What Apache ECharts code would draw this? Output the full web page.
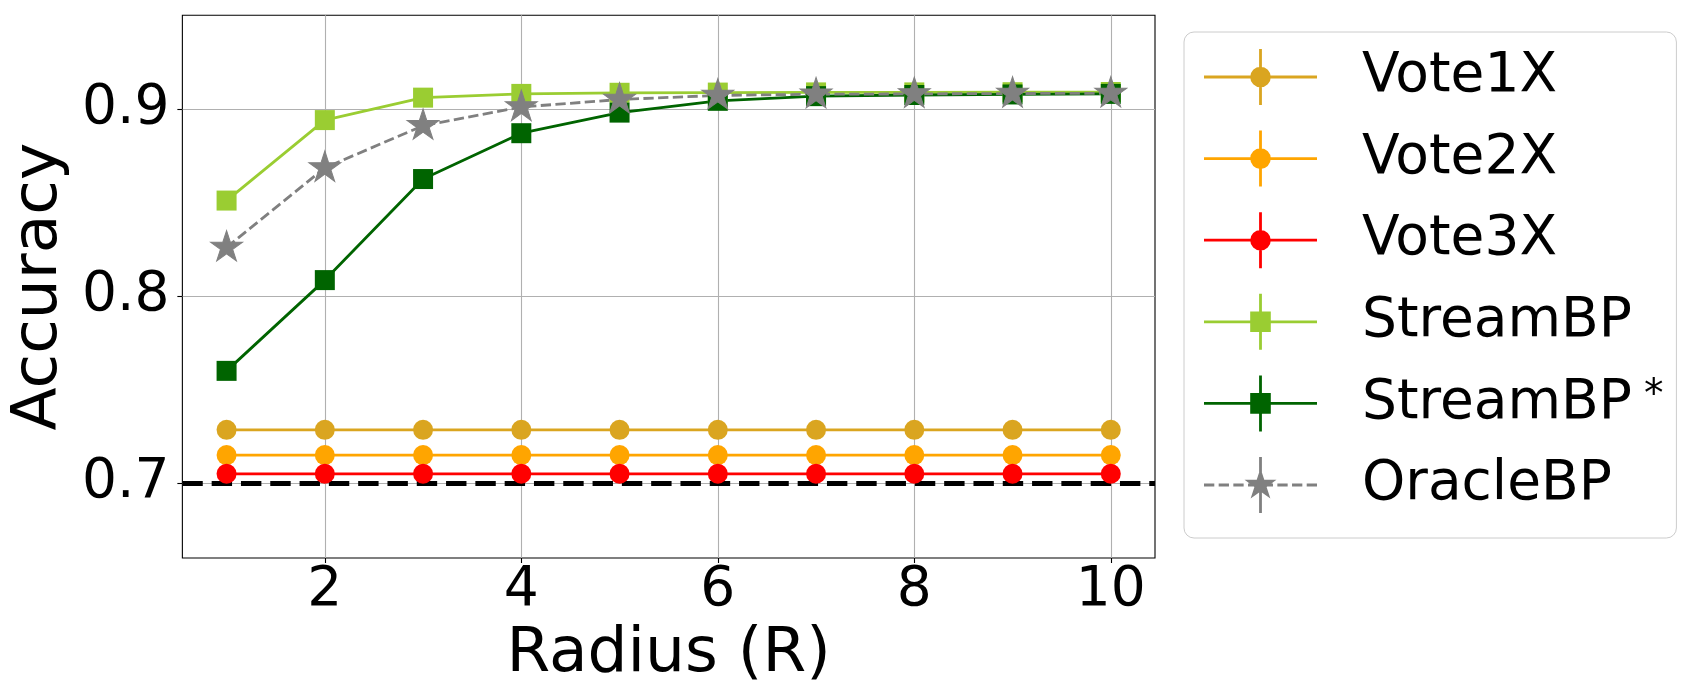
<!DOCTYPE html>
<html><head><meta charset="utf-8">
<script src="https://cdn.jsdelivr.net/npm/echarts@6/dist/echarts.min.js"></script>
<style>html,body{margin:0;padding:0;background:#fff}#chart{width:1700px;height:700px}</style>
</head><body><div id="chart"></div>
<script>
// ---- data ----
const radius = [1, 2, 3, 4, 5, 6, 7, 8, 9, 10];
const vote1X = [0.7285, 0.7285, 0.7285, 0.7285, 0.7285, 0.7285, 0.7285, 0.7285, 0.7285, 0.7285];
const vote2X = [0.715, 0.715, 0.715, 0.715, 0.715, 0.715, 0.715, 0.715, 0.715, 0.715];
const vote3X = [0.705, 0.705, 0.705, 0.705, 0.705, 0.705, 0.705, 0.705, 0.705, 0.705];
const streamBP = [0.851, 0.894, 0.906, 0.908, 0.9086, 0.9087, 0.9088, 0.9088, 0.9089, 0.909];
const streamBPStar = [0.760, 0.8085, 0.8625, 0.887, 0.898, 0.9043, 0.9068, 0.9074, 0.9077, 0.908];
const oracleBP = [0.826, 0.8685, 0.891, 0.901, 0.905, 0.9072, 0.9078, 0.908, 0.9082, 0.9083];
const baselineAccuracy = 0.7;
const xTicks = [2, 4, 6, 8, 10];
const yTicks = [0.7, 0.8, 0.9];
const xRange = [0.55, 10.45];
const yRange = [0.66, 0.95];

// ---- styles ----
const FONT = 'DejaVu Sans';
const LW = 2.8;

function starPoints(R, cx, cy) {
  const pts = [];
  for (let k = 0; k < 10; k++) {
    const a = (-90 + k * 36) * Math.PI / 180;
    const r = (k % 2 === 0) ? R : R * 0.381966;
    pts.push([cx + r * Math.cos(a), cy + r * Math.sin(a)]);
  }
  return 'M' + pts.map(p => p[0].toFixed(3) + ' ' + p[1].toFixed(3)).join(' L') + ' Z';
}
const starSymbol = 'path://' + starPoints(100, 0, 0);
const STAR_R = 16.8;
const starSize = [2 * STAR_R * Math.sin(72 * Math.PI / 180), STAR_R * (1 + Math.cos(36 * Math.PI / 180))];
const starOffset = [0, -STAR_R * (1 - Math.cos(36 * Math.PI / 180)) / 2];

function rect(x, y, w, h) {
  return 'M' + x + ' ' + y + ' L' + (x + w) + ' ' + y + ' L' + (x + w) + ' ' + (y + h) + ' L' + x + ' ' + (y + h) + ' Z ';
}
function legendIcon(marker, dashed) {
  const W = 113, H = 56, cx = 56.5, cy = 28, t = 2.8;
  let p = '';
  if (dashed) {
    const n = 8, d = 10.3, g = (W - n * d) / (n - 1);
    for (let i = 0; i < n; i++) p += rect(i * (d + g), cy - t / 2, d, t);
  } else {
    p += rect(0, cy - t / 2, W, t);
  }
  p += rect(cx - t / 2, 0, t, H);
  if (marker === 'circle') {
    const r = 10.3;
    p += 'M' + (cx - r) + ' ' + cy + ' A' + r + ' ' + r + ' 0 1 1 ' + (cx + r) + ' ' + cy + ' A' + r + ' ' + r + ' 0 1 1 ' + (cx - r) + ' ' + cy + ' Z ';
  } else if (marker === 'rect') {
    p += rect(cx - 10.3, cy - 10.3, 20.6, 20.6);
  } else {
    p += starPoints(STAR_R, cx, cy);
  }
  return 'path://' + p;
}

function pairs(arr) { return radius.map((r, i) => [r, arr[i]]); }

const seriesDefs = [
  { name: 'Vote1X', data: vote1X, color: '#DAA520', marker: 'circle' },
  { name: 'Vote2X', data: vote2X, color: '#FFA500', marker: 'circle' },
  { name: 'Vote3X', data: vote3X, color: '#FF0000', marker: 'circle' },
  { name: 'StreamBP', data: streamBP, color: '#9ACD32', marker: 'rect' },
  { name: 'StreamBP*', data: streamBPStar, color: '#006400', marker: 'rect' },
  { name: 'OracleBP', data: oracleBP, color: '#808080', marker: 'star', dashed: true }
];

const series = seriesDefs.map((s, idx) => {
  const isStar = s.marker === 'star';
  const o = {
    name: s.name,
    type: 'line',
    data: pairs(s.data),
    color: s.color,
    symbol: isStar ? starSymbol : s.marker,
    symbolSize: isStar ? starSize : 20,
    symbolOffset: isStar ? starOffset : [0, 0],
    showAllSymbol: true,
    lineStyle: { color: s.color, width: LW, type: s.dashed ? [10.3, 4.4] : 'solid' },
    itemStyle: { color: s.color, borderWidth: isStar ? 1 : 0, borderColor: s.color },
    emphasis: { disabled: true },
    z: 3
  };
  if (idx === 0) {
    o.markLine = {
      silent: true,
      symbol: ['none', 'none'],
      z: 2,
      label: { show: false },
      lineStyle: { color: '#000', width: 5, type: [20.4, 8.9] },
      emphasis: { disabled: true },
      data: [{ yAxis: baselineAccuracy }]
    };
  }
  return o;
});

const chart = echarts.init(document.getElementById('chart'), null, { renderer: 'canvas' });
chart.setOption({
  animation: false,
  backgroundColor: '#fff',
  textStyle: { fontFamily: FONT },
  grid: {
    left: 177.6, top: 15.3, right: 1700 - 1155, bottom: 700 - 558,
    show: true, borderColor: '#000', borderWidth: 1.1, backgroundColor: 'transparent'
  },
  xAxis: {
    type: 'value',
    min: xRange[0], max: xRange[1],
    name: 'Radius (R)',
    nameLocation: 'middle',
    nameGap: 60,
    nameTextStyle: { fontSize: 63, color: '#000', fontFamily: FONT },
    axisLine: { show: false },
    axisTick: { show: true, inside: false, length: 5, customValues: xTicks, lineStyle: { color: '#000', width: 1.1 } },
    axisLabel: { customValues: xTicks, fontSize: 55, color: '#000', margin: 5, fontFamily: FONT },
    splitLine: { show: true, lineStyle: { color: '#b0b0b0', width: 1.1 } }
  },
  yAxis: {
    type: 'value',
    min: yRange[0], max: yRange[1],
    name: 'Accuracy',
    nameLocation: 'middle',
    nameGap: 107,
    nameRotate: 90,
    nameTextStyle: { fontSize: 63, color: '#000', fontFamily: FONT },
    axisLine: { show: false },
    axisTick: { show: true, inside: false, length: 5, customValues: yTicks, lineStyle: { color: '#000', width: 1.1 } },
    axisLabel: { customValues: yTicks, fontSize: 55, color: '#000', margin: 13, fontFamily: FONT,
      formatter: v => v.toFixed(1) },
    splitLine: { show: true, lineStyle: { color: '#b0b0b0', width: 1.1 } }
  },
  legend: {
    orient: 'vertical',
    left: 1184, top: 32,
    padding: [17, 13, 25, 20],
    itemWidth: 113, itemHeight: 56, itemGap: 25.6,
    backgroundColor: 'rgba(255,255,255,0.8)',
    borderColor: '#cccccc', borderWidth: 1, borderRadius: 10,
    selectedMode: false,
    itemStyle: { borderWidth: 0 },
    data: seriesDefs.map(s => ({ name: s.name, icon: legendIcon(s.marker, s.dashed) })),
    formatter: name => name === 'StreamBP*' ? '{n|StreamBP}{s|*}' : name,
    textStyle: {
      fontSize: 55, color: '#000', fontFamily: FONT, padding: [0, 0, 0, 40],
      rich: {
        n: { fontSize: 55, color: '#000', fontFamily: FONT },
        s: { fontSize: 39, lineHeight: 24, color: '#000', fontFamily: FONT, verticalAlign: 'top', padding: [0, 0, 0, 12] }
      }
    }
  },
  series: series
});
</script>
</body></html>
